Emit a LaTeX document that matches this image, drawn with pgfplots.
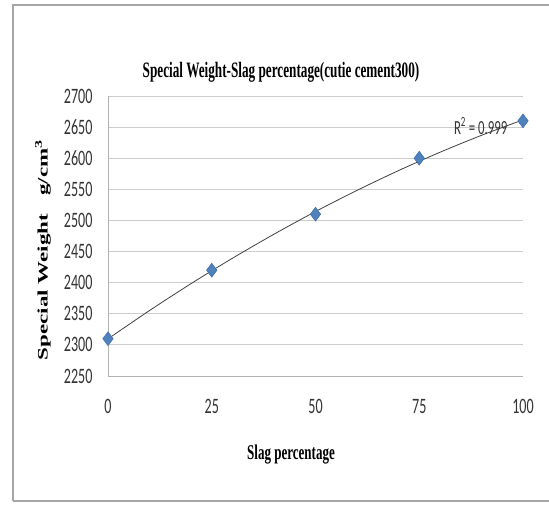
\documentclass[border=0pt]{standalone}
\usepackage{pgfplots}
\pgfplotsset{compat=1.18}
\usepackage{fontspec}
\setmainfont{Liberation Serif}
\newfontfamily\calib[FakeStretch=0.64]{Carlito}
\newfontfamily\tnr[FakeStretch=0.62]{Liberation Serif}
\newfontfamily\tnrt[FakeStretch=0.60]{Liberation Serif}
\definecolor{xlblue}{HTML}{4F81BD}
\definecolor{xledge}{HTML}{3A6AA5}
\begin{document}
\begin{tikzpicture}[x=1pt,y=1pt]
\path[use as bounding box] (-108,-128) rectangle (441,376);
\draw[draw=gray!70, line width=1.2pt] (-95,-125) -- (-95,371) -- (441,371);
\draw[draw=gray!70, line width=1.2pt] (-95,-125) -- (441,-125);
\begin{axis}[
  at={(0,0)}, anchor=south west,
  width=415pt, height=280pt, scale only axis,
  xmin=0, xmax=100, ymin=2250, ymax=2700,
  xtick={0,25,50,75,100},
  ytick={2250,2300,2350,2400,2450,2500,2550,2600,2650,2700},
  axis lines=left, axis line style={-, draw=gray!60, line width=0.8pt},
  major tick length=0pt,
  ymajorgrids, major grid style={draw=gray!40, line width=0.9pt},
  /pgf/number format/assume math mode=true,
  /pgf/number format/1000 sep={},
  tick label style={font=\calib\fontsize{22}{22}\selectfont, text=black!80},
  yticklabel style={xshift=-12pt},
  xticklabel style={yshift=-20pt},
  clip=false,
]
\addplot[black!75, line width=0.8pt, smooth] coordinates {
  (0,2309.7) (10,2355.2) (20,2398.4) (30,2439.3) (40,2477.9) (50,2514.3)
  (60,2548.3) (70,2580.1) (80,2609.6) (90,2636.8) (100,2661.7)
};
\addplot[only marks, mark=diamond*, mark size=7pt,
  mark options={fill=xlblue, draw=xledge, line width=0.4pt}] coordinates {
  (0,2310) (25,2420) (50,2510) (75,2600) (100,2660)
};
\node[font=\calib\fontsize{20}{20}\selectfont, text=black!80] at (axis cs:89.8,2652) {R\textsuperscript{2} = 0.999};
\end{axis}
\node[font=\tnrt\bfseries\fontsize{22}{22}\selectfont] at (173,304) {Special Weight-Slag percentage(cutie cement300)};
\node[font=\tnr\bfseries\fontsize{21}{21}\selectfont] at (183,-79) {Slag percentage};
\node[rotate=90] at (-65,126) {\scalebox{1}[0.63]{\bfseries\fontsize{23}{23}\selectfont Special Weight\hspace{0.8em}g/cm\textsuperscript{3}}};
\end{tikzpicture}
\end{document}
